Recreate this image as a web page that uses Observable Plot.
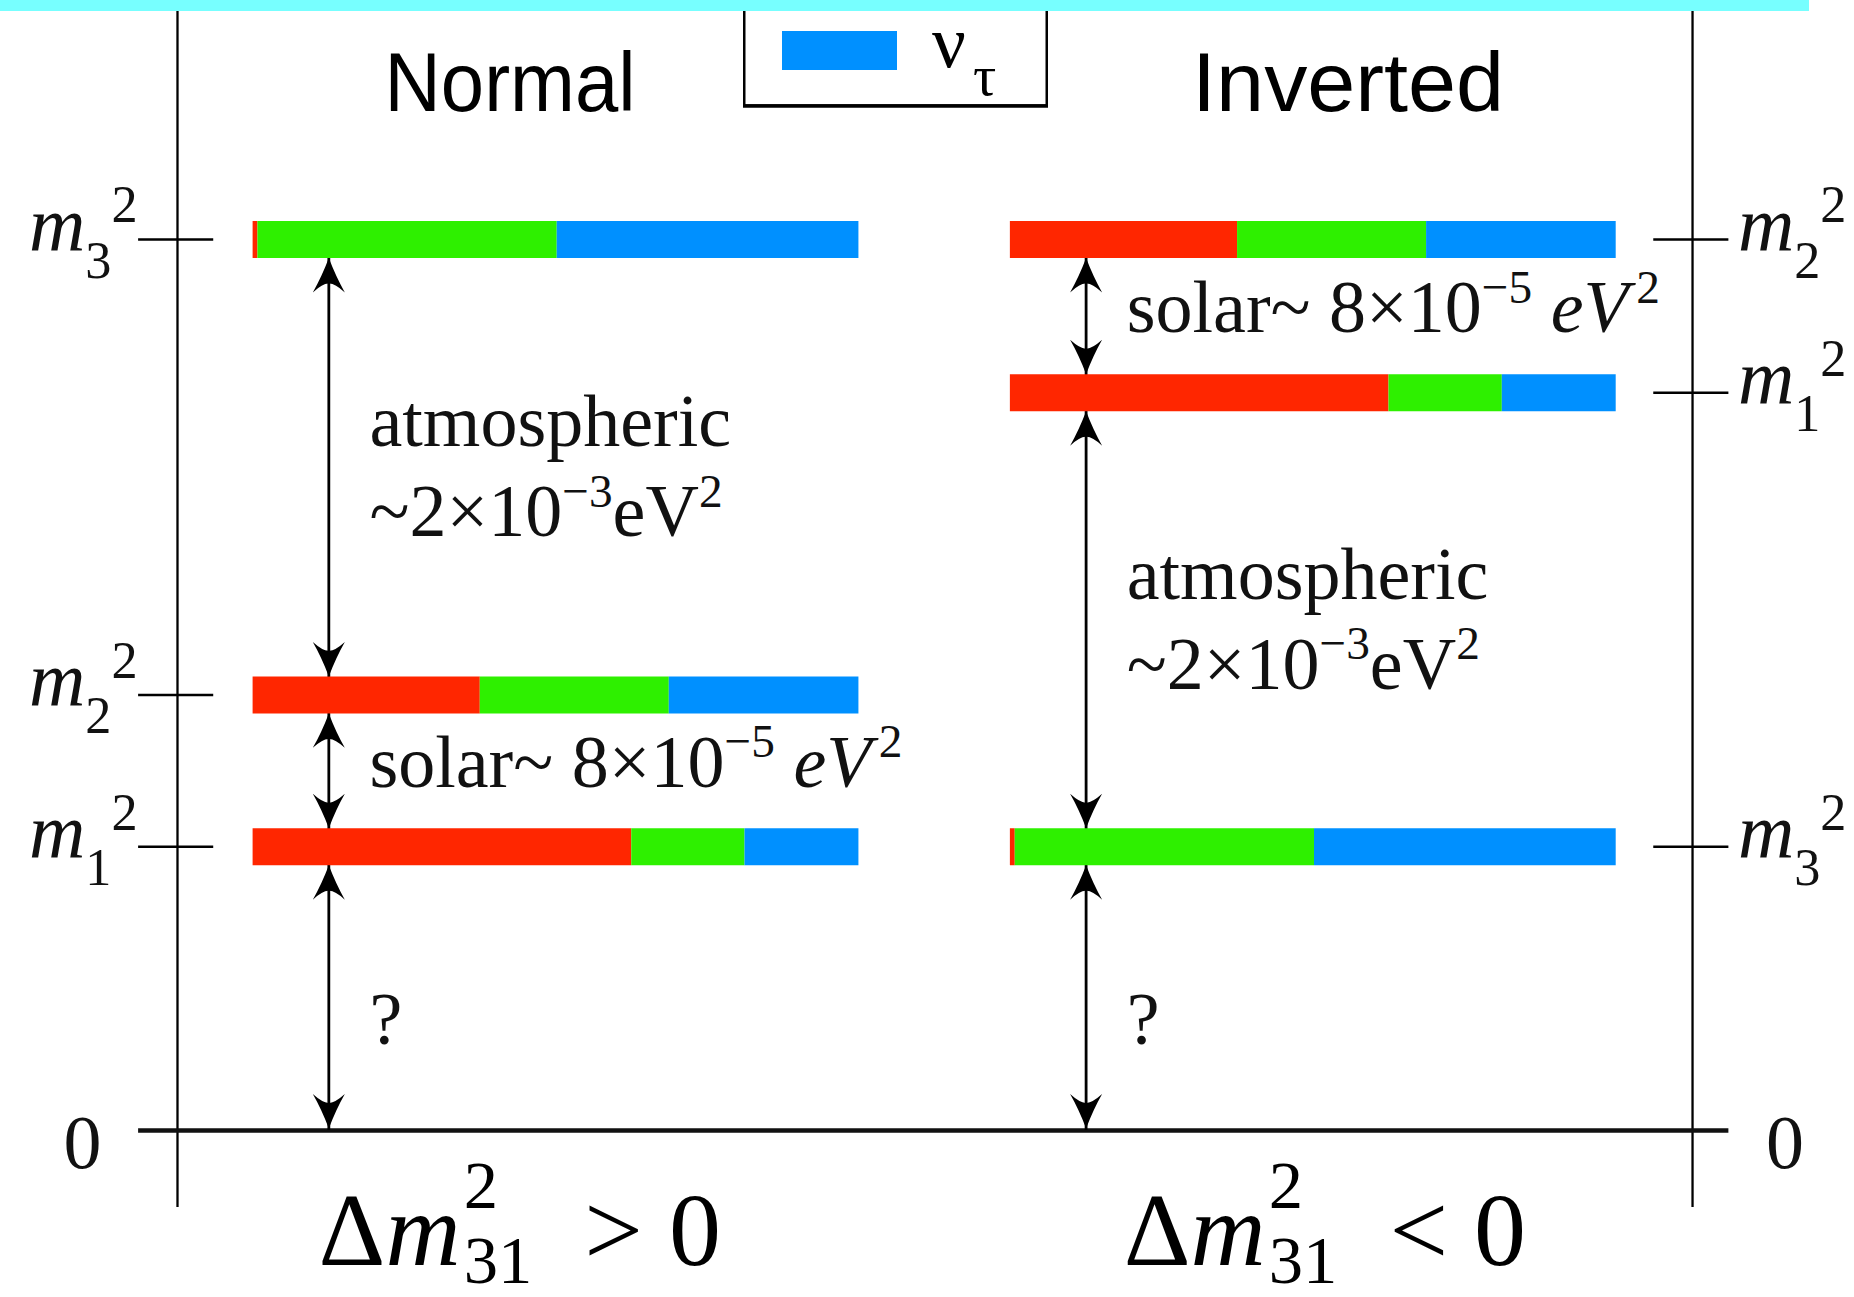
<!DOCTYPE html>
<html>
<head>
<meta charset="utf-8">
<script src="https://cdn.jsdelivr.net/npm/d3@7"></script>
<script src="https://cdn.jsdelivr.net/npm/@observablehq/plot@0.6"></script>
<style>
  html, body { margin: 0; padding: 0; background: #fff; }
  #wrap { position: relative; width: 1854px; height: 1297px; overflow: hidden; background: #fff; }
  #band { position: absolute; left: 0; top: 0; width: 1809px; height: 11px; background: #77ffff; z-index: 3; }
  #legend { position: absolute; left: 743px; top: -20px; z-index: 2; }
  #chart { position: absolute; left: 0; top: 0; }
</style>
</head>
<body>
<div id="wrap">
  <div id="chart"></div>
  <svg id="legend" width="308" height="132">
    <rect x="1.25" y="8" width="302.5" height="117.5" fill="#fff" stroke="#000" stroke-width="2.5"></rect>
    <line x1="0" x2="305" y1="126" y2="126" stroke="#000" stroke-width="3.5"></line>
    <rect id="legendSwatch" x="39" y="51" width="115" height="39"></rect>
    <text font-family="'Liberation Serif','Times New Roman',serif" fill="#000">
      <tspan id="legendNu" x="189" y="87" font-size="75">ν</tspan><tspan id="legendSub" x="230" y="115" font-size="58">τ</tspan>
    </text>
  </svg>
  <div id="band"></div>
</div>
<script>
// ---------------- data ----------------
const hierarchies = ["Normal", "Inverted"];
const massStates = ["1", "2", "3"];                 // m1, m2, m3
const normalLevels = [1.0, 1.535, 3.14];             // schematic m_i^2 (arbitrary units)
const invertedLevels = [2.6, 3.14, 1.0];
const flavors = ["νe", "νμ", "ντ"];
const flavorColors = ["#ff2600", "#2ef000", "#0090ff"];
const eFraction   = [0.625, 0.375, 0.008];           // |U_ei|^2 per mass state
const muFraction  = [0.187, 0.312, 0.494];
const tauFraction = [0.188, 0.313, 0.498];
const normalGaps   = [[null, 0], [0, 1], [1, 2]];    // [lower state, upper state]
const invertedGaps = [[null, 2], [2, 0], [0, 1]];
const normalGapKinds   = ["?", "solar", "atmospheric"];
const invertedGapKinds = ["?", "atmospheric", "solar"];
const solarText = "solar~ 8×10^{−5} *eV*^{2}";
const atmText = ["atmospheric", "~2×10^{−3}eV^{2}"];
const bottomLabels = ["Δ*m*^{2}_{31}\u2002> 0", "Δ*m*^{2}_{31}\u2002< 0"];
const legendFlavor = "ντ";

// ---------------- layout constants (not data) ----------------
const panelStep = 1.25;
const arrowInset = 0.125, textInset = 0.192;
const axisX = [-0.1248, 2.376];
const tickL = [-0.189, -0.065], tickR = [2.312, 2.436];
const headingX = [0.217, 1.55];
const bottomX = [0.108, 1.437];
const serif = "'Liberation Serif','Times New Roman',serif";
const sans = "'Liberation Sans','Arial',sans-serif";

// ---------------- derived tables ----------------
const fractions = [eFraction, muFraction, tauFraction];
const segments = [];
const levelTable = [];
const gapTable = [];
hierarchies.forEach((h, p) => {
  const levels = p === 0 ? normalLevels : invertedLevels;
  massStates.forEach((s, si) => {
    levelTable.push({panel: p, state: s, level: levels[si]});
    let x0 = p * panelStep;
    fractions.forEach((fr, fi) => {
      segments.push({panel: p, state: s, flavor: flavors[fi], level: levels[si], x1: x0, x2: x0 + fr[si]});
      x0 += fr[si];
    });
  });
  const gaps = p === 0 ? normalGaps : invertedGaps;
  const kinds = p === 0 ? normalGapKinds : invertedGapKinds;
  gaps.forEach(([lo, up], gi) => {
    gapTable.push({panel: p, kind: kinds[gi], low: lo === null ? 0 : levels[lo], high: levels[up], lowIsZero: lo === null});
  });
});

const ax = d => d.panel * panelStep + arrowInset;
const tx = d => d.panel * panelStep + textInset;
const mid = d => (d.low + d.high) / 2;

function makeHead(dir) {
  return {draw(ctx, size) {
    const r = Math.sqrt(size / Math.PI);
    const L = r * 2.15, n = r * 1.6;
    ctx.moveTo(0, 0);
    ctx.quadraticCurveTo(r * 0.45, dir * L * 0.55, r, dir * L);
    ctx.quadraticCurveTo(r * 0.35, dir * n * 0.98, 0, dir * n);
    ctx.quadraticCurveTo(-r * 0.35, dir * n * 0.98, -r, dir * L);
    ctx.quadraticCurveTo(-r * 0.45, dir * L * 0.55, 0, 0);
    ctx.closePath();
  }};
}
const headUp = makeHead(1), headDown = makeHead(-1);

const plot = Plot.plot({
  width: 1854,
  height: 1297,
  margin: 0,
  x: {domain: [0, 2.25], range: [252.6, 1615.7], axis: null},
  y: {domain: [0, 3.14], range: [1130, 239], axis: null},
  color: {domain: flavors, range: flavorColors},
  style: {background: "transparent", color: "black", overflow: "visible"},
  marks: [
    // frame: vertical axes, baseline, level ticks
    Plot.ruleX(axisX, {y1: -0.271, y2: 4.1, strokeWidth: 2.3, stroke: "black"}),
    Plot.ruleY([0], {x1: tickL[0], x2: tickR[1], strokeWidth: 4.5, stroke: "#111"}),
    Plot.ruleY(levelTable.filter(d => d.panel === 0), {y: "level", x1: tickL[0], x2: tickL[1], strokeWidth: 2.4, stroke: "black"}),
    Plot.ruleY(levelTable.filter(d => d.panel === 1), {y: "level", x1: tickR[0], x2: tickR[1], strokeWidth: 2.4, stroke: "black"}),
    // arrow shafts
    Plot.ruleX(gapTable, {x: ax, y1: "low", y2: "high", strokeWidth: 2.8, stroke: "black"}),
    // flavour-content bars
    Plot.ruleY(segments, {y: "level", x1: "x1", x2: "x2", stroke: "flavor", strokeWidth: 37}),
    // arrow heads
    Plot.dot(gapTable, {x: ax, y: "high", symbol: headUp, r: 16, fill: "black", stroke: "none", dy: 18.5}),
    Plot.dot(gapTable.filter(d => !d.lowIsZero), {x: ax, y: "low", symbol: headDown, r: 16, fill: "black", stroke: "none", dy: -18.5}),
    Plot.dot(gapTable.filter(d => d.lowIsZero), {x: ax, y: "low", symbol: headDown, r: 16, fill: "black", stroke: "none", dy: -2}),
    // gap annotations
    Plot.text(gapTable.filter(d => d.kind === "atmospheric"), {x: tx, y: mid, text: () => atmText[0], textAnchor: "start", lineAnchor: "bottom", dy: -21, fontSize: 74, fontFamily: serif, fill: "#111"}),
    Plot.text(gapTable.filter(d => d.kind === "atmospheric"), {x: tx, y: mid, text: () => atmText[1], textAnchor: "start", lineAnchor: "bottom", dy: 69, fontSize: 74, fontFamily: serif, fill: "#111"}),
    Plot.text(gapTable.filter(d => d.kind === "solar"), {x: tx, y: mid, text: () => solarText, textAnchor: "start", lineAnchor: "bottom", dy: 16, fontSize: 74, fontFamily: serif, fill: "#111"}),
    Plot.text(gapTable.filter(d => d.kind === "?"), {x: tx, y: mid, text: "kind", textAnchor: "start", lineAnchor: "bottom", dy: 55, fontSize: 74, fontFamily: serif, fill: "#111"}),
    // mass labels
    Plot.text(levelTable.filter(d => d.panel === 0), {x: tickL[0], y: "level", text: d => `*m*_{${d.state}}^{2}`, textAnchor: "end", lineAnchor: "bottom", dx: -1, dy: 11, fontSize: 78, fontFamily: serif, fill: "#111"}),
    Plot.text(levelTable.filter(d => d.panel === 1), {x: tickR[1], y: "level", text: d => `*m*_{${d.state}}^{2}`, textAnchor: "start", lineAnchor: "bottom", dx: 9, dy: 11, fontSize: 78, fontFamily: serif, fill: "#111"}),
    // zero labels
    Plot.text([0], {x: tickL[0], y: d => d, text: () => "0", textAnchor: "middle", lineAnchor: "bottom", dx: -56, dy: 37, fontSize: 76, fontFamily: serif, fill: "#111"}),
    Plot.text([0], {x: tickR[1], y: d => d, text: () => "0", textAnchor: "middle", lineAnchor: "bottom", dx: 56, dy: 37, fontSize: 76, fontFamily: serif, fill: "#111"}),
    // headings
    Plot.text(hierarchies, {x: (d, i) => headingX[i], frameAnchor: "top", text: d => d, textAnchor: "start", lineAnchor: "bottom", dy: 110, fontSize: 84, fontFamily: sans, fill: "#000"}),
    // bottom conditions
    Plot.text(bottomLabels, {x: (d, i) => bottomX[i], y: () => 0, text: d => d, textAnchor: "start", lineAnchor: "bottom", dy: 134, fontSize: 104, fontFamily: serif, fill: "#000"})
  ]
});

document.getElementById("chart").appendChild(plot);

// legend swatch colour from the flavour list
d3.select("#legendSwatch").attr("fill", flavorColors[flavors.indexOf(legendFlavor)]);

// rich text: ^{sup}, _{sub}, *italic*
function richText(el, opt) {
  const s = el.textContent;
  const base = parseFloat(getComputedStyle(el).fontSize);
  const parts = [];
  let buf = "", italic = false, i = 0;
  while (i < s.length) {
    const c = s[i];
    if ((c === "^" || c === "_") && s[i + 1] === "{") {
      const j = s.indexOf("}", i);
      parts.push({t: buf, kind: "n", italic}); buf = "";
      parts.push({t: s.slice(i + 2, j), kind: c === "^" ? "sup" : "sub"});
      i = j + 1;
    } else if (c === "*") {
      parts.push({t: buf, kind: "n", italic}); buf = ""; italic = !italic; i++;
    } else { buf += c; i++; }
  }
  parts.push({t: buf, kind: "n", italic});
  while (el.firstChild) el.removeChild(el.firstChild);
  let cur = 0, prev = null, prevNode = null, prevItalic = false;
  for (const p of parts) {
    if (!p.t) continue;
    const target = p.kind === "sup" ? -opt.raise * base : p.kind === "sub" ? opt.drop * base : 0;
    const ts = d3.select(el).append("tspan").text(p.t);
    if (target - cur !== 0) ts.attr("dy", target - cur);
    cur = target;
    if (p.kind !== "n") ts.attr("font-size", opt.small * base);
    if (p.italic) ts.attr("font-style", "italic");
    if (opt.stack && p.kind === "sub" && prev === "sup" && prevNode) {
      ts.attr("dx", -prevNode.getComputedTextLength());
    } else if (p.kind === "sup" && prevItalic && opt.supKern) {
      ts.attr("dx", opt.supKern * base);
    }
    prev = p.kind; prevNode = ts.node(); prevItalic = !!p.italic;
  }
}
const headingWidths = {Normal: 251, Inverted: 312};
d3.select(plot).selectAll("text").each(function() {
  const s = this.textContent;
  if (headingWidths[s]) {
    d3.select(this).attr("textLength", headingWidths[s]).attr("lengthAdjust", "spacingAndGlyphs");
    return;
  }
  if (!/[\^_*]/.test(s)) return;
  if (s.startsWith("Δ")) richText(this, {small: 0.66, raise: 0.54, drop: 0.18, stack: true, supKern: 0.03});
  else if (s.startsWith("*m*")) richText(this, {small: 0.67, raise: 0.36, drop: 0.35});
  else richText(this, {small: 0.64, raise: 0.4, drop: 0.25, supKern: 0.1});
});
</script>
</body>
</html>
